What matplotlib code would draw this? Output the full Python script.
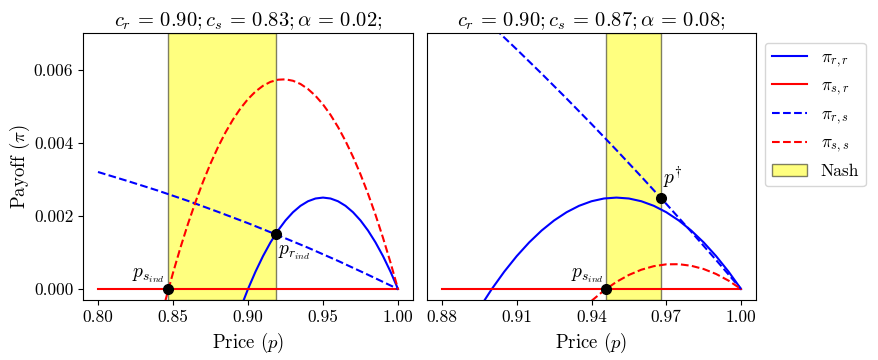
import matplotlib
matplotlib.use("Agg")
import matplotlib.pyplot as plt
from matplotlib.lines import Line2D
from matplotlib.patches import Patch

plt.rcParams['font.family'] = 'serif'
plt.rcParams['font.serif'] = ['cmr10', 'DejaVu Serif']
plt.rcParams['mathtext.fontset'] = 'cm'
plt.rcParams['axes.unicode_minus'] = False
plt.rcParams['axes.formatter.use_mathtext'] = True

# ---------------- data ----------------
titles = [r"$c_r\,=\,0.90;c_s\,=\,0.83;\alpha\,=\,0.02;$",
          r"$c_r\,=\,0.90;c_s\,=\,0.87;\alpha\,=\,0.08;$"]

# shared: pi_{r,r} (blue solid), same in both panels
p_rr = [0.895, 0.900, 0.905, 0.910, 0.915, 0.920, 0.925, 0.930, 0.935, 0.940, 0.945,
        0.950, 0.955, 0.960, 0.965, 0.970, 0.975, 0.980, 0.985, 0.990, 0.995, 1.000]
pi_rr = [-0.000525, 0.0, 0.000475, 0.000900, 0.001275, 0.001600, 0.001875, 0.002100,
         0.002275, 0.002400, 0.002475, 0.002500, 0.002475, 0.002400, 0.002275, 0.002100,
         0.001875, 0.001600, 0.001275, 0.000900, 0.000475, 0.0]

# left panel
p_sr_L = [0.80, 1.00]
pi_sr_L = [0.0, 0.0]
p_rs_L = [0.80, 0.82, 0.84, 0.86, 0.88, 0.90, 0.92, 0.94, 0.96, 0.98, 1.00]
pi_rs_L = [0.00320, 0.00295, 0.00269, 0.00241, 0.00211, 0.00180, 0.00147, 0.00113,
           0.00077, 0.00039, 0.0]
p_ss_L = [0.845, 0.850, 0.855, 0.860, 0.865, 0.870, 0.875, 0.880, 0.885, 0.890, 0.895,
          0.900, 0.905, 0.910, 0.915, 0.920, 0.925, 0.930, 0.935, 0.940, 0.945, 0.950,
          0.955, 0.960, 0.965, 0.970, 0.975, 0.980, 0.985, 0.990, 0.995, 1.000]
pi_ss_L = [-0.000304, 0.000441, 0.001137, 0.001784, 0.002381, 0.002930, 0.003430,
           0.003881, 0.004283, 0.004635, 0.004939, 0.005194, 0.005400, 0.005557,
           0.005664, 0.005723, 0.005733, 0.005694, 0.005606, 0.005468, 0.005282,
           0.005047, 0.004763, 0.004430, 0.004047, 0.003616, 0.003136, 0.002607,
           0.002029, 0.001401, 0.000725, 0.0]
nash_L = [0.8469, 0.9187]
pts_L = {"s": (0.8469, 0.0), "r": (0.9187, 0.00151)}

# right panel
p_sr_R = [0.88, 1.00]
pi_sr_R = [0.0, 0.0]
p_rs_R = [0.88, 0.89, 0.90, 0.91, 0.92, 0.93, 0.94, 0.95, 0.96, 0.97, 0.98, 0.99, 1.00]
pi_rs_R = [0.008448, 0.007832, 0.007200, 0.006552, 0.005888, 0.005208, 0.004512,
           0.003800, 0.003072, 0.002328, 0.001568, 0.000792, 0.0]
p_ss_R = [0.940, 0.945, 0.950, 0.955, 0.960, 0.965, 0.970, 0.975, 0.980, 0.985,
          0.990, 0.995, 1.000]
pi_ss_R = [-0.000324, -0.000041, 0.000195, 0.000385, 0.000528, 0.000625, 0.000675,
           0.000679, 0.000636, 0.000547, 0.000411, 0.000229, 0.0]
nash_R = [0.9458, 0.9677]
pts_R = {"s": (0.9458, 0.0), "d": (0.9677, 0.0025)}

xticks_L = [0.80, 0.85, 0.90, 0.95, 1.00]
xticks_R = [0.88, 0.91, 0.94, 0.97, 1.00]
yticks = [0.000, 0.002, 0.004, 0.006]

# ---------------- figure ----------------
fig = plt.figure(figsize=(8.79, 3.6), dpi=100)
axL = fig.add_axes([83/879, 60/360, 330/879, 267/360])
axR = fig.add_axes([427/879, 60/360, 329/879, 267/360], sharey=axL)

lw = 1.5
def draw(ax, p_sr, pi_sr, p_rs, pi_rs, p_ss, pi_ss, nash):
    ax.axvspan(nash[0], nash[1], facecolor='yellow', alpha=0.5, edgecolor='black', lw=1.0, zorder=1)
    ax.plot(p_rr, pi_rr, color='blue', lw=lw, zorder=2)
    ax.plot(p_sr, pi_sr, color='red', lw=lw, zorder=2)
    ax.plot(p_rs, pi_rs, color='blue', ls='--', lw=lw, zorder=2)
    ax.plot(p_ss, pi_ss, color='red', ls='--', lw=lw, zorder=2)

draw(axL, p_sr_L, pi_sr_L, p_rs_L, pi_rs_L, p_ss_L, pi_ss_L, nash_L)
draw(axR, p_sr_R, pi_sr_R, p_rs_R, pi_rs_R, p_ss_R, pi_ss_R, nash_R)

for (x, y) in pts_L.values():
    axL.plot([x], [y], 'o', color='black', ms=7, zorder=5)
for (x, y) in pts_R.values():
    axR.plot([x], [y], 'o', color='black', ms=7, zorder=5)

fs_ann = 14
axL.text(0.8445, 0.00010, r"$p_{s_{ind}}$", fontsize=fs_ann, ha='right', va='bottom')
axL.text(0.9202, 0.00125, r"$p_{r_{ind}}$", fontsize=fs_ann, ha='left', va='top')
axR.text(0.9447, 0.00010, r"$p_{s_{ind}}$", fontsize=fs_ann, ha='right', va='bottom')
axR.text(0.9685, 0.00268, r"$p^{\dagger}$", fontsize=fs_ann, ha='left', va='bottom')

axL.set_xlim(0.79, 1.01)
axR.set_xlim(0.874, 1.006)
axL.set_ylim(-0.0003, 0.0070)

axL.set_xticks(xticks_L)
axL.set_xticklabels([f"{v:.2f}" for v in xticks_L])
axR.set_xticks(xticks_R)
axR.set_xticklabels([f"{v:.2f}" for v in xticks_R])
axL.set_yticks(yticks)
axL.set_yticklabels([f"{v:.3f}" for v in yticks])
axR.tick_params(axis='y', left=False, labelleft=False)

for ax, t in zip([axL, axR], titles):
    ax.tick_params(labelsize=12.5)
    ax.set_title(t, fontsize=14.8, pad=5)
    ax.set_xlabel(r"Price ($p$)", fontsize=13.5)
axL.set_ylabel(r"Payoff ($\pi$)", fontsize=13.5, labelpad=1)

handles = [Line2D([], [], color='blue', lw=lw),
           Line2D([], [], color='red', lw=lw),
           Line2D([], [], color='blue', lw=lw, ls='--'),
           Line2D([], [], color='red', lw=lw, ls='--'),
           Patch(facecolor='yellow', alpha=0.5, edgecolor='black')]
labels = [r"$\pi_{r,r}$", r"$\pi_{s,r}$", r"$\pi_{r,s}$", r"$\pi_{s,s}$", "Nash"]
fig.legend(handles, labels, loc='upper left', bbox_to_anchor=(765/879, 1 - 42.7/360),
           borderaxespad=0, fontsize=12.5)

fig.savefig("out.png", dpi=100)
